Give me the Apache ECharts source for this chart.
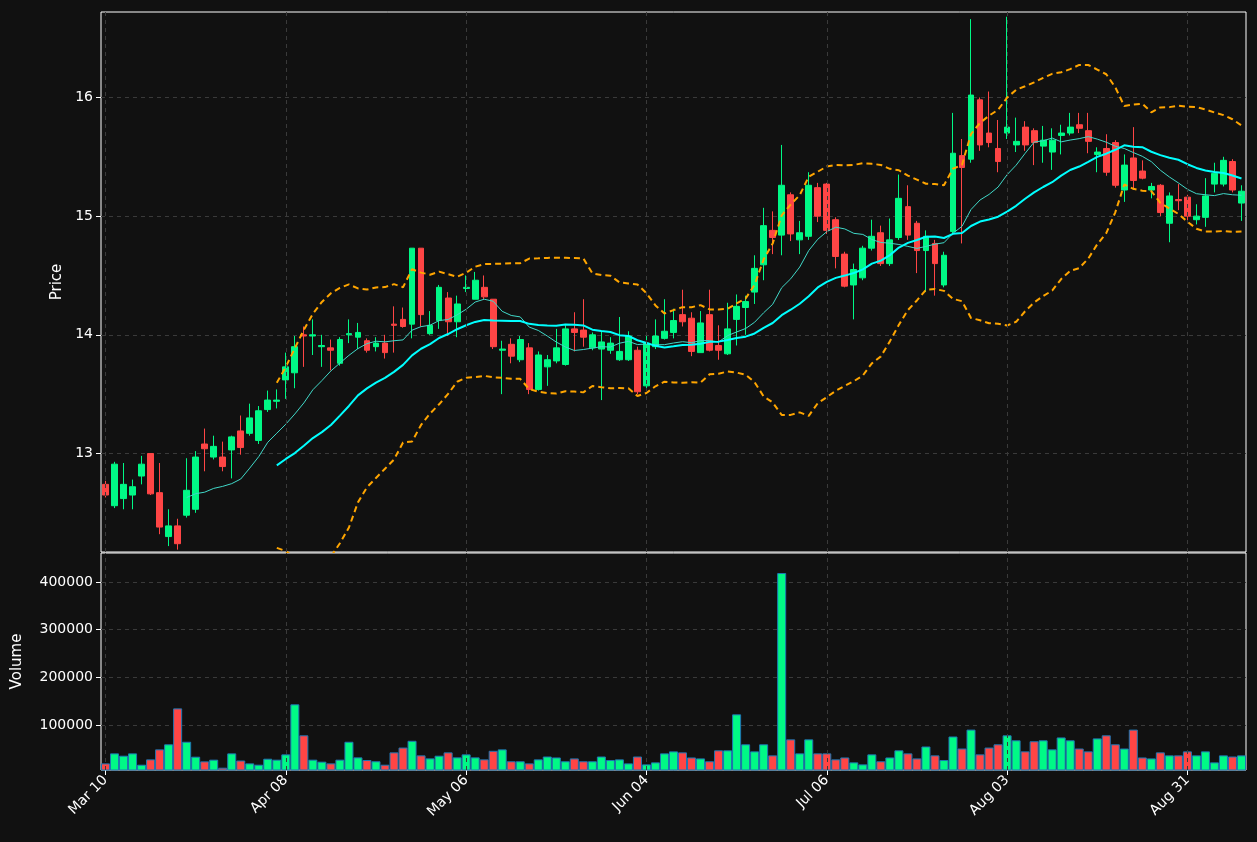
<!DOCTYPE html>
<html><head><meta charset="utf-8">
<script src="https://cdn.jsdelivr.net/npm/echarts@6/dist/echarts.min.js"></script>
<style>html,body{margin:0;padding:0;background:#111111;}#c{width:1257px;height:842px;}</style>
</head><body><div id="c"></div>
<script>
const tickLabels = ['Mar 10','Apr 08','May 06','Jun 04','Jul 06','Aug 03','Aug 31'];
const opens = [12.74,12.56,12.62,12.65,12.81,13.0,12.67,12.3,12.39,12.48,12.53,13.08,12.97,12.97,13.03,13.19,13.17,13.11,13.37,13.44,
13.62,13.68,14.0,13.99,13.9,13.89,13.76,14.0,13.98,13.95,13.9,13.93,14.09,14.13,14.09,14.73,14.01,14.12,14.31,14.11,
14.39,14.3,14.4,14.3,13.87,13.92,13.79,13.89,13.54,13.73,13.78,13.75,14.05,14.04,13.89,13.88,13.87,13.79,13.79,13.87,
13.57,13.9,13.97,14.02,14.17,14.14,13.85,14.17,13.91,13.84,14.13,14.23,14.36,14.59,14.88,14.84,15.18,14.80,14.83,15.24,
15.27,14.97,14.68,14.42,14.48,14.73,14.86,14.6,14.82,15.08,14.94,14.71,14.77,14.42,14.87,15.51,15.48,15.98,15.7,15.57,
15.7,15.6,15.75,15.72,15.59,15.54,15.68,15.7,15.77,15.72,15.52,15.57,15.62,15.22,15.49,15.38,15.22,15.26,14.94,15.14,
15.16,14.97,14.99,15.27,15.27,15.46,15.11];
const closes = [12.65,12.91,12.74,12.72,12.91,12.66,12.38,12.39,12.24,12.69,12.97,13.04,13.06,12.89,13.14,13.05,13.3,13.36,13.45,13.45,
13.73,13.9,13.99,14.0,13.91,13.87,13.96,14.01,14.02,13.87,13.93,13.85,14.08,14.07,14.73,14.17,14.08,14.4,14.11,14.26,
14.4,14.46,14.32,13.9,13.88,13.82,13.96,13.54,13.83,13.79,13.89,14.05,14.02,13.98,14.0,13.94,13.93,13.86,13.99,13.52,
13.93,13.99,14.03,14.12,14.11,13.86,14.1,13.87,13.87,14.05,14.24,14.28,14.56,14.92,14.82,15.26,14.85,14.86,15.26,15.0,
14.88,14.66,14.41,14.55,14.73,14.83,14.6,14.8,15.15,14.84,14.71,14.83,14.6,14.67,15.53,15.41,16.02,15.6,15.62,15.46,
15.75,15.63,15.6,15.62,15.64,15.64,15.7,15.75,15.74,15.63,15.54,15.37,15.26,15.43,15.3,15.32,15.25,15.03,15.17,15.13,
15.0,15.0,15.17,15.36,15.47,15.22,15.21];
const highs = [12.77,12.93,12.92,12.78,12.98,13.0,12.92,12.53,12.45,12.96,13.02,13.21,13.15,13.1,13.15,13.32,13.42,13.4,13.53,13.54,
13.85,13.99,14.07,14.13,14.0,13.96,13.98,14.13,14.1,13.97,13.98,14.0,14.24,14.23,14.73,14.73,14.2,14.42,14.36,14.33,
14.5,14.53,14.5,14.3,13.95,13.97,13.99,13.93,13.86,13.83,14.05,14.08,14.19,14.3,14.02,14.03,13.98,14.15,14.03,13.9,
14.0,14.13,14.3,14.22,14.38,14.19,14.2,14.38,14.08,14.27,14.34,14.33,14.67,15.07,15.04,15.6,15.2,14.96,15.37,15.28,
15.28,14.99,14.7,14.6,14.75,14.97,14.92,14.98,15.35,15.26,14.96,14.88,14.8,14.7,15.87,15.65,16.66,16.0,16.05,15.81,
16.68,15.83,15.8,15.74,15.76,15.74,15.77,15.87,15.87,15.87,15.58,15.69,15.64,15.52,15.75,15.47,15.28,15.27,15.2,15.27,
15.18,15.1,15.32,15.45,15.5,15.48,15.26];
const lows = [12.63,12.54,12.53,12.53,12.74,12.65,12.32,12.22,12.19,12.46,12.5,12.85,12.95,12.85,12.79,12.99,13.15,13.08,13.35,13.38,
13.46,13.55,13.73,13.83,13.73,13.7,13.74,13.93,13.88,13.85,13.86,13.8,13.85,14.06,13.97,14.07,14.0,14.05,13.99,13.98,
14.36,14.3,14.3,13.88,13.5,13.76,13.77,13.5,13.53,13.57,13.76,13.74,13.86,13.9,13.87,13.45,13.84,13.78,13.78,13.5,
13.55,13.88,13.96,13.97,14.07,13.82,13.85,13.86,13.79,13.83,13.91,14.0,14.26,14.46,14.68,14.67,14.79,14.68,14.8,14.95,
14.85,14.56,14.4,14.13,14.46,14.71,14.58,14.58,14.8,14.8,14.52,14.36,14.33,14.4,14.85,14.77,15.45,15.55,15.58,15.37,
15.65,15.54,15.55,15.43,15.45,15.39,15.52,15.68,15.7,15.53,15.37,15.34,15.24,15.12,15.22,15.31,15.15,15.0,14.78,15.05,
14.94,14.93,14.91,15.2,15.25,15.2,14.96];
const volumes = [19600,40600,35700,40600,16800,28000,49000,59600,135000,65000,33600,23800,27400,10500,40600,25600,19600,16800,29400,27400,
38500,143500,78500,27400,23200,19600,27400,65000,32200,26600,24000,16800,42700,52800,67000,36400,30100,35700,42700,32200,
38500,32200,28000,46000,49000,24000,24000,19600,28000,34000,32000,24000,30000,24000,24000,34000,26600,28000,19600,34000,
17500,21700,40600,44800,42700,32000,30000,24000,47000,47000,122500,59600,44800,59600,36400,419000,70000,40600,70000,40600,
40600,28000,32000,21700,17500,38500,24000,32000,47000,40600,30000,55000,36400,26600,76000,50800,90500,38500,52800,59600,
78500,68000,44800,66000,68000,49000,74000,68000,50800,44800,72000,78500,59600,50800,90500,32000,30000,42700,36400,36400,
44800,36400,44800,21700,36400,34000,36400];

const N = closes.length;
const cats = closes.map((_, i) => i);
const tickIdx = tickLabels.map((_, k) => k * 20);
function ma(n){return closes.map((_,i)=>{if(i<n-1)return '-';let s=0;for(let k=i-n+1;k<=i;k++)s+=closes[k];return +(s/n).toFixed(4);});}
const ma10 = ma(10), ma20 = ma(20);
const bbU=[], bbL=[];
for(let i=0;i<N;i++){ if(i<19){bbU.push('-');bbL.push('-');continue;}
  const m=ma20[i]; let s=0; for(let k=i-19;k<=i;k++) s+=(closes[k]-m)**2; const sd=Math.sqrt(s/19);
  bbU.push(+(m+2*sd).toFixed(4)); bbL.push(+(m-2*sd).toFixed(4)); }
const UP='#00F986', DN='#FF4545';
const kdata = closes.map((c,i)=>[opens[i],c,lows[i],highs[i]]);
const vdata = volumes.map((v,i)=>({value:v,itemStyle:{color: closes[i]>=opens[i]?UP:DN}}));
const gridLine = {silent:true, symbol:'none', label:{show:false},
  lineStyle:{color:'#3a3a3a', type:[4,4], width:1}, data: tickIdx.map(i=>({xAxis:i}))};
const font = 'DejaVu Sans';
const chart = echarts.init(document.getElementById('c'));
const xBase = {type:'category', data:cats, boundaryGap:true,
  axisLine:{show:false}, axisTick:{show:false}, splitLine:{show:false}};
chart.setOption({
  backgroundColor:'#111111', animation:false,
  textStyle:{fontFamily:font},
  grid:[{left:101,right:11,top:12,height:540,show:true,borderColor:'#ffffff',borderWidth:1},
        {left:101,right:11,top:553,height:217,show:true,borderColor:'#ffffff',borderWidth:1}],
  xAxis:[Object.assign({gridIndex:0, axisLabel:{show:false}}, xBase),
    Object.assign({gridIndex:1}, xBase, {axisTick:{show:true, alignWithLabel:true, interval:(i)=>i%20===0, lineStyle:{color:'#fff'}, length:5},
      axisLabel:{show:true, interval:(i)=>i%20===0, rotate:45, color:'#fff', fontSize:14, margin:8,
      formatter:(v)=>tickLabels[Math.round(v/20)]||''}})],
  yAxis:[{gridIndex:0, min:12.17, max:16.72, name:'Price', nameLocation:'middle', nameGap:36,
      nameTextStyle:{color:'#fff',fontSize:15},
      axisLine:{show:false}, axisTick:{show:true, customValues:[13,14,15,16], lineStyle:{color:'#fff'}, length:5},
      axisLabel:{color:'#fff',fontSize:14, customValues:[13,14,15,16]},
      splitLine:{show:true,lineStyle:{color:'#3a3a3a',type:[4,4]}}},
    {gridIndex:1, min:5700, max:461000, name:'Volume', nameLocation:'middle', nameGap:76,
      nameTextStyle:{color:'#fff',fontSize:15},
      axisLine:{show:false}, axisTick:{show:true, customValues:[100000,200000,300000,400000], lineStyle:{color:'#fff'}, length:5},
      axisLabel:{color:'#fff',fontSize:14, customValues:[100000,200000,300000,400000], formatter:(v)=>String(v)},
      splitLine:{show:true,lineStyle:{color:'#3a3a3a',type:[4,4]}}}],
  series:[
    {type:'candlestick', xAxisIndex:0, yAxisIndex:0, data:kdata, barWidth:'70%', markLine:gridLine,
      itemStyle:{color:UP,color0:DN,borderColor:UP,borderColor0:DN,borderWidth:1}},
    {type:'line', data:ma10, symbol:'none', lineStyle:{color:'#40D8C8',width:1}, xAxisIndex:0,yAxisIndex:0},
    {type:'line', data:ma20, symbol:'none', lineStyle:{color:'#00FFFF',width:2}, xAxisIndex:0,yAxisIndex:0},
    {type:'line', data:bbU, symbol:'none', lineStyle:{color:'#FFA500',width:2,type:[6,4]}, xAxisIndex:0,yAxisIndex:0},
    {type:'line', data:bbL, symbol:'none', lineStyle:{color:'#FFA500',width:2,type:[6,4]}, xAxisIndex:0,yAxisIndex:0},
    {type:'bar', xAxisIndex:1, yAxisIndex:1, data:vdata, barWidth:'100%', barGap:'0%', markLine:gridLine,
      itemStyle:{borderColor:'#1f77b4',borderWidth:1}}
  ]
});
</script></body></html>
